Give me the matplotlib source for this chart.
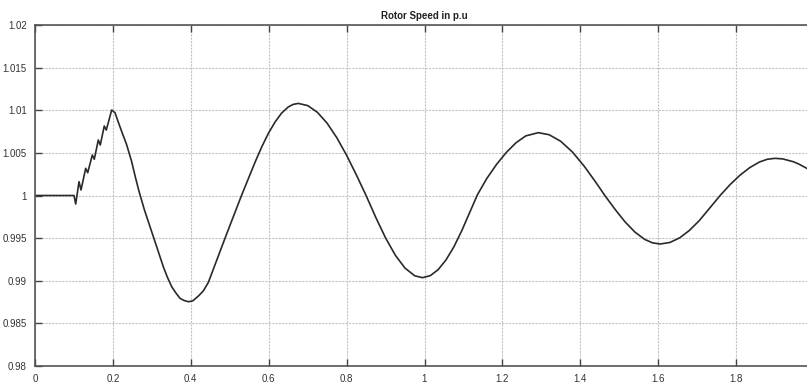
import numpy as np
import matplotlib
matplotlib.use('Agg')
import matplotlib.pyplot as plt

# rotor speed trace (time in s, speed in p.u)
time_s = [0.000, 0.050, 0.1001, 0.1045, 0.1130, 0.1181, 0.1302, 0.1353,
          0.1471, 0.1522, 0.1625, 0.1676, 0.1778, 0.1830, 0.1969, 0.2054,
          0.2139, 0.2228, 0.235, 0.248, 0.258, 0.267, 0.281, 0.2953,
          0.3124, 0.3294, 0.340, 0.3510, 0.362, 0.3723, 0.383, 0.3937,
          0.405, 0.4193, 0.432, 0.445, 0.4665, 0.4878, 0.5091, 0.5307,
          0.5476, 0.565, 0.582, 0.599, 0.616, 0.633, 0.650, 0.663,
          0.676, 0.700, 0.725, 0.750, 0.775, 0.800, 0.825, 0.850,
          0.875, 0.900, 0.925, 0.950, 0.975, 0.995, 1.015, 1.035,
          1.055, 1.075, 1.095, 1.115, 1.136, 1.160, 1.185, 1.210,
          1.235, 1.260, 1.292, 1.320, 1.350, 1.380, 1.410, 1.440,
          1.463, 1.490, 1.515, 1.540, 1.565, 1.585, 1.605, 1.630,
          1.655, 1.680, 1.705, 1.730, 1.759, 1.785, 1.810, 1.835,
          1.860, 1.880, 1.900, 1.920, 1.947, 1.960, 1.979, 2.000]
speed_pu = [1.0, 1.0, 1.0, 0.99900, 1.00162, 1.00065, 1.00319, 1.00267,
            1.00475, 1.00425, 1.00651, 1.00592, 1.00815, 1.00768, 1.01003, 1.00971,
            1.00860, 1.00748, 1.00600, 1.00400, 1.00210, 1.00050, 0.99830, 0.99634,
            0.99399, 0.99165, 0.99040, 0.98930, 0.98855, 0.98794, 0.98768, 0.98754,
            0.98764, 0.98820, 0.98880, 0.98980, 0.99240, 0.99498, 0.99751, 1.00006,
            1.00196, 1.00391, 1.00569, 1.00727, 1.00860, 1.00966, 1.01038, 1.01069,
            1.01080, 1.01055, 1.00976, 1.00848, 1.00677, 1.00472, 1.00242, 1.00000,
            0.99742, 0.99503, 0.99300, 0.99148, 0.99058, 0.99036, 0.99060, 0.99130,
            0.99243, 0.99394, 0.99580, 0.99790, 1.00010, 1.00200, 1.00365, 1.00505,
            1.00619, 1.00699, 1.00737, 1.00713, 1.00635, 1.00509, 1.00344, 1.00154,
            1.00000, 0.99833, 0.99690, 0.99572, 0.99486, 0.99445, 0.99431, 0.99449,
            0.99503, 0.99590, 0.99703, 0.99840, 1.00000, 1.00130, 1.00238, 1.00327,
            1.00393, 1.00425, 1.00436, 1.00429, 1.00396, 1.00371, 1.00325, 1.00263]

x_ticks = [0, 0.2, 0.4, 0.6, 0.8, 1.0, 1.2, 1.4, 1.6, 1.8]
y_ticks = [0.98, 0.985, 0.99, 0.995, 1.0, 1.005, 1.01, 1.015, 1.02]

plt.rcParams['font.family'] = ['Liberation Sans Narrow', 'Liberation Sans', 'DejaVu Sans']

fig = plt.figure(figsize=(8.07, 3.86), dpi=100)
# axes run past the right edge, the picture is cut off before t=2
ax = fig.add_axes([35/807, 20/386, 779/807, 341/386])

ax.plot(time_s, speed_pu, color='#2a2a2a', lw=1.2)

ax.set_xlim(0, 2)
ax.set_ylim(0.98, 1.02)
ax.set_xticks(x_ticks)
ax.set_yticks(y_ticks)
ax.set_xticklabels(['%g' % v for v in x_ticks])
ax.set_yticklabels(['%g' % v for v in y_ticks])

ax.grid(True, color='#c4c4c4', linestyle=(0, (2, 1)), lw=0.8)
ax.tick_params(direction='in', length=5, width=1, color='#444444',
               top=True, right=True, labelsize=7, labelcolor='#333333', pad=6)
for sp in ax.spines.values():
    sp.set_color('#555555')
    sp.set_linewidth(1.2)

ax.set_title('Rotor Speed in p.u', fontsize=7, fontweight='bold', color='#222222', pad=4)

fig.savefig('out.png', dpi=100)
